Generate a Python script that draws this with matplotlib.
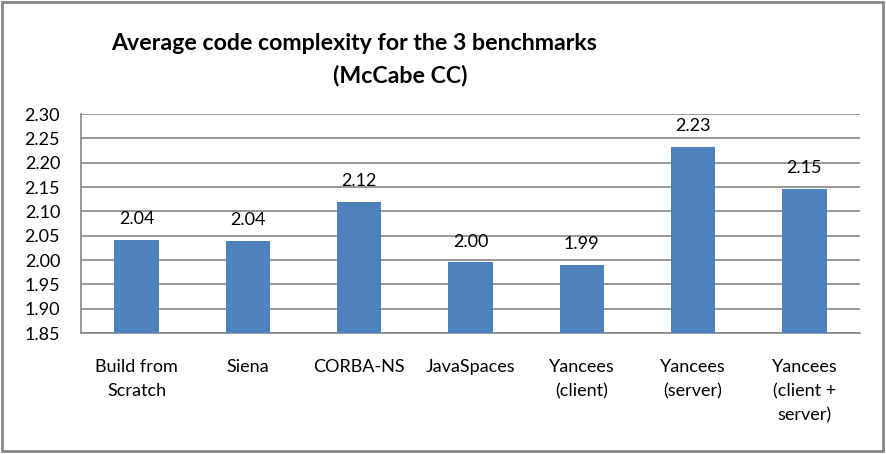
import matplotlib
matplotlib.use("Agg")
import matplotlib.pyplot as plt
from matplotlib.patches import Rectangle

categories = ["Build from\nScratch", "Siena", "CORBA-NS", "JavaSpaces",
              "Yancees\n(client)", "Yancees\n(server)", "Yancees\n(client +\nserver)"]
values = [2.042, 2.040, 2.120, 1.995, 1.990, 2.233, 2.146]
labels = ["2.04", "2.04", "2.12", "2.00", "1.99", "2.23", "2.15"]
yticks = [1.85, 1.90, 1.95, 2.00, 2.05, 2.10, 2.15, 2.20, 2.25, 2.30]

plt.rcParams['font.family'] = ['Lato', 'DejaVu Sans']
W, H = 886, 454
fig = plt.figure(figsize=(W / 100, H / 100), dpi=100)
fig.patch.set_facecolor("white")

ax = fig.add_axes([81 / W, 1 - 333 / H, (860 - 81) / W, (333 - 114) / H])
x = list(range(len(categories)))
ax.bar(x, [v - 1.85 for v in values], bottom=1.85, width=0.40, color="#4F81BD", zorder=3)
ax.set_xlim(-0.5, len(categories) - 0.5)
ax.set_ylim(1.85, 2.30)
ax.set_yticks(yticks)
ax.set_yticklabels([f"{t:.2f}" for t in yticks], fontsize=13)
ax.set_xticks(x)
ax.set_xticklabels(categories, fontsize=13, linespacing=1.6, va="top")
ax.tick_params(axis="both", length=0, colors="black")
ax.tick_params(axis="y", pad=15)
ax.tick_params(axis="x", pad=19)
ax.yaxis.grid(True, color="#868686", linewidth=1.2, zorder=0)
for s in ["top", "right"]:
    ax.spines[s].set_visible(False)
for s in ["left", "bottom"]:
    ax.spines[s].set_color("#868686")
    ax.spines[s].set_linewidth(1.2)

for xi, v, lab in zip(x, values, labels):
    ax.annotate(lab, (xi, v), xytext=(0, 9), textcoords="offset points",
                ha="center", va="bottom", fontsize=13)

fig.text(354 / W, 1 - 44 / H, "Average code complexity for the 3 benchmarks",
         ha="center", va="center", fontsize=16.7, fontweight="bold")
fig.text(400 / W, 1 - 76 / H, "(McCabe CC)",
         ha="center", va="center", fontsize=16.7, fontweight="bold")

fig.patches.append(Rectangle((2 / W, 1 - 451 / H), 881 / W, 449 / H,
                             transform=fig.transFigure, fill=False,
                             edgecolor="#868686", linewidth=2))

fig.savefig("out.png", dpi=100)
